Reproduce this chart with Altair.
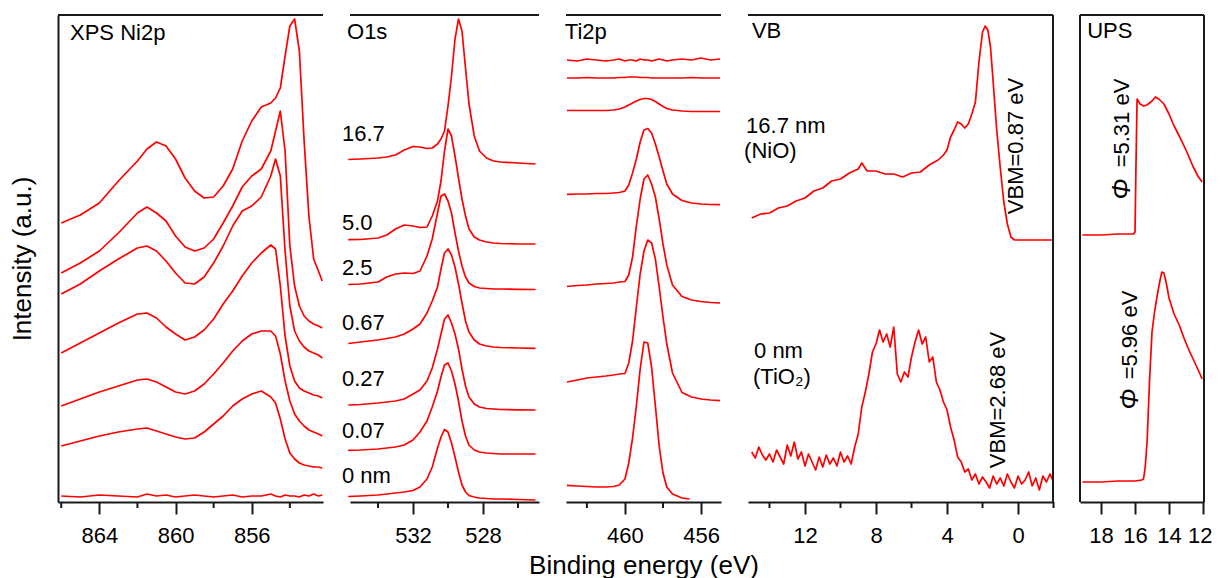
import altair as alt
import pandas as pd

FONT = "Liberation Sans"
RED = "#ff0000"
INK = "#1a1a1a"
H = 487

# ---------------- XPS Ni2p ----------------
ni_energy = [866.0, 865.0, 864.0, 863.0, 862.0, 861.5, 861.0, 860.5, 860.0, 859.5,
             859.0, 858.5, 858.0, 857.5, 857.0, 856.5, 856.0, 855.5, 855.0, 854.75,
             854.5, 854.25, 854.0, 853.75, 853.5, 853.25, 853.0, 852.75, 852.5, 852.3]
ni_16p7 = [279, 287, 299, 321, 341, 353, 360, 356, 343, 324, 311, 304, 305, 316, 333,
           361, 381, 395, 399, 404, 414, 446, 476, 483, 451, 361, 286, 243, 231, 221]
ni_5p0 = [229, 239, 251, 269, 289, 295, 289, 281, 266, 255, 251, 254, 263, 279, 296,
          315, 326, 333, 351, 371, 391, 351, 256, 216, 196, 186, 181, 178, 176, 174]
ni_2p5 = [208, 218, 231, 243, 254, 256, 251, 241, 229, 219, 218, 225, 239, 256, 276,
          291, 296, 305, 326, 343, 326, 251, 196, 171, 161, 155, 151, 149, 147, 144]
ni_0p67 = [149, 159, 169, 179, 188, 189, 184, 175, 168, 162, 165, 172, 183, 198, 211,
           226, 239, 249, 257, 253, 216, 166, 136, 121, 114, 111, 109, 107, 106, 104]
ni_0p27 = [96, 103, 110, 116, 122, 123, 120, 115, 110, 108, 111, 118, 128, 139, 151,
           161, 168, 171, 171, 166, 148, 121, 101, 88, 81, 76, 72, 70, 68, 66]
ni_0p07 = [56, 61, 66, 70, 73, 74, 71, 68, 65, 63, 64, 70, 78, 86, 96,
           103, 108, 111, 105, 99, 83, 63, 49, 43, 39, 37, 36, 35, 35, 34]
ni_0 = [6, 5, 7, 6, 5, 8, 6, 7, 5, 6, 7, 6, 5, 6, 7,
        5, 6, 6, 8, 6, 5, 7, 6, 6, 5, 7, 6, 8, 6, 7]

# ---------------- O1s ----------------
o_energy = [535.7, 535.0, 534.0, 533.5, 533.0, 532.5, 532.0, 531.6, 531.2, 530.9,
            530.6, 530.4, 530.2, 530.0, 529.8, 529.6, 529.4, 529.2, 529.0, 528.8,
            528.5, 528.2, 527.8, 527.4, 527.0, 526.0, 525.0]
o_16p7 = [342.5, 343, 344, 345, 347, 352, 355.5, 355, 353.5, 354, 358, 363, 371, 396,
          426, 463, 483, 471, 434, 398, 366, 351, 344, 341, 340, 339, 338]
o_5p0 = [262.3, 262.5, 264, 267, 273, 277, 276, 274.5, 275, 286, 301, 321, 351, 373,
         366, 346, 324, 303, 286, 273, 265, 262, 260, 259, 258.5, 258, 258]
o_2p5 = [217.5, 218, 220, 225, 228, 229, 228.5, 231, 246, 263, 289, 306, 308, 301,
         289, 269, 251, 236, 225, 219, 215.5, 214, 213.5, 213, 213, 212.6, 212.5]
o_0p67 = [158.5, 160, 162, 163.5, 165, 168, 173, 178, 189, 201, 215, 233, 249, 253,
          247, 235, 218, 199, 181, 170, 162, 158, 156, 155, 154.5, 154, 153.7]
o_0p27 = [97, 97.5, 99, 100, 101, 103, 108, 112, 121, 134, 153, 168, 183, 187,
          179, 168, 153, 133, 116, 105, 98, 95, 93.5, 93, 92.5, 92.2, 92]
o_0p07 = [51.7, 52, 53, 54, 55, 57, 62, 70, 81, 95, 111, 125, 137, 139,
          131, 118, 101, 81, 66, 57, 52, 50, 49, 48.5, 48, 48, 48]
o_0 = [5.5, 6, 7, 8, 9, 10, 11.5, 15, 23, 35, 54, 65, 72.5, 70,
       59, 45, 30, 17, 10, 6.5, 5, 4, 3.5, 3, 3, 2.5, 2]
o_labels = ["16.7", "5.0", "2.5", "0.67", "0.27", "0.07", "0 nm"]
o_label_level = [368, 279, 234, 179, 123, 71, 26]

# ---------------- Ti2p ----------------
ti_energy = [463.05, 462.5, 462.0, 461.5, 461.0, 460.6, 460.3, 460.0, 459.8, 459.6,
             459.4, 459.2, 459.0, 458.8, 458.6, 458.4, 458.2, 458.0, 457.8, 457.5,
             457.0, 456.5, 456.0, 455.5, 455.0]
ti_16p7 = [442, 441, 443, 442, 441, 442, 443, 441, 442, 442, 441, 443, 442, 442, 441,
           442, 443, 442, 441, 442, 443, 442, 444, 442, 443]
ti_5p0 = [424, 424, 424.5, 424, 424, 424, 424.5, 424.5, 425, 425, 425, 424.5, 424.5,
          424.5, 424, 424, 424, 424, 424, 424, 424, 424.5, 424, 424, 424]
ti_2p5 = [391.5, 391.5, 391.5, 391.5, 391.5, 392, 393, 395, 397, 399, 401, 402.5, 403.5,
          403.5, 402.5, 400.5, 398, 395.5, 393.5, 392, 391, 390.5, 390.5, 390.5, 390.5]
ti_0p67 = [307.6, 308, 308, 308.5, 308.5, 309, 309.5, 311, 317, 329, 343, 360, 372,
           373.5, 369, 358, 345, 331, 318, 308, 301.5, 299, 298, 297.5, 297.3]
ti_0p27 = [215.5, 216.5, 217, 218, 218.5, 219, 220, 220.5, 227, 245, 276, 303, 323,
           327, 318, 305, 283, 258, 237, 217, 205.5, 202, 200.5, 199.5, 199]
ti_0p07 = [120, 122, 124, 125, 126, 127, 128, 128.5, 139, 161, 195, 228, 251,
           262, 259, 243, 215, 185, 158, 129, 109.5, 105, 103, 102, 101.4]
ti0_energy = [463.05, 462.5, 462.0, 461.5, 461.0, 460.6, 460.3, 460.0, 459.8, 459.6,
              459.4, 459.2, 459.0, 458.8, 458.6, 458.4, 458.2, 458.0, 457.8, 457.5,
              457.0, 456.6]
ti_0 = [16.6, 16, 15.5, 15, 15, 15.5, 17, 23, 39, 64, 96, 133, 160, 159, 135, 96,
        56, 29, 15, 8, 4, 3]

# ---------------- VB ----------------
vb_nio_energy = [15.0, 14.5, 14.0, 13.5, 13.0, 12.5, 12.0, 11.5, 11.0, 10.5, 10.0, 9.5,
                 9.0, 8.8, 8.5, 8.0, 7.5, 7.0, 6.5, 6.0, 5.5, 5.0, 4.5, 4.2, 4.0, 3.8,
                 3.6, 3.4, 3.2, 3.0, 2.8, 2.6, 2.4, 2.2, 2.0, 1.85, 1.7, 1.55, 1.4, 1.2,
                 1.0, 0.8, 0.6, 0.4, 0.2, 0.0, -1.0, -1.95]
vb_nio = [284, 288, 289, 294, 296, 301, 304, 311, 314, 321, 323, 329, 333, 339, 331,
          331, 328, 328, 325, 329, 330, 337, 342, 347, 352, 365, 372, 380, 378, 374,
          378, 388, 400, 440, 470, 476, 472, 455, 420, 372, 334, 300, 278, 265, 262,
          262, 262, 262]
vb_tio2_energy = [15.0, 14.8, 14.6, 14.4, 14.2, 14.0, 13.8, 13.6, 13.4, 13.2, 13.0, 12.8,
                  12.6, 12.4, 12.2, 12.0, 11.8, 11.6, 11.4, 11.2, 11.0, 10.8, 10.6, 10.4,
                  10.2, 10.0, 9.8, 9.6, 9.4, 9.2, 9.0, 8.8, 8.6, 8.4, 8.2, 8.0, 7.8, 7.6,
                  7.4, 7.2, 7.0, 6.8, 6.6, 6.4, 6.2, 6.0, 5.8, 5.6, 5.4, 5.2, 5.0, 4.8,
                  4.6, 4.4, 4.2, 4.0, 3.8, 3.6, 3.4, 3.2, 3.0, 2.8, 2.6, 2.4, 2.2, 2.0,
                  1.8, 1.6, 1.4, 1.2, 1.0, 0.8, 0.6, 0.4, 0.2, 0.0, -0.2, -0.4, -0.6,
                  -0.8, -1.0, -1.2, -1.4, -1.6, -1.8, -1.95]
vb_tio2 = [50, 44, 55, 47, 42, 48, 40, 52, 45, 38, 57, 46, 60, 43, 50, 36, 48, 40, 32,
           45, 35, 47, 38, 44, 36, 50, 40, 46, 38, 55, 68, 95, 110, 128, 150, 158, 172,
           160, 168, 155, 175, 128, 120, 130, 125, 145, 160, 172, 158, 165, 140, 145,
           120, 112, 100, 92, 75, 62, 45, 40, 30, 33, 22, 28, 18, 25, 20, 14, 26, 18,
           24, 16, 28, 20, 14, 26, 18, 22, 30, 16, 24, 12, 26, 20, 28, 22]

# ---------------- UPS ----------------
ups_a_energy = [19.1, 18.0, 17.0, 16.1, 16.0, 15.95, 15.88, 15.7, 15.5, 15.3, 15.0, 14.8,
                14.6, 14.3, 14.0, 13.7, 13.4, 13.0, 12.6, 12.3, 12.05]
ups_a = [267, 267, 268, 268, 270, 330, 403, 398, 396, 397, 401, 405, 403, 398, 388,
         376, 366, 352, 336, 326, 320]
ups_b_energy = [19.1, 18.0, 17.0, 16.0, 15.6, 15.5, 15.4, 15.29, 15.15, 15.0, 14.85,
                14.7, 14.55, 14.42, 14.3, 14.15, 14.0, 13.7, 13.4, 13.1, 12.8, 12.5,
                12.2, 12.05]
ups_b = [20, 20, 21, 21, 22, 23, 35, 60, 120, 170, 190, 206, 220, 230, 229, 218, 204,
         188, 177, 163, 151, 140, 129, 123]


def series_frame(items):
    rows = []
    for name, energies, values in items:
        for e, v in zip(energies, values):
            rows.append({"E": e, "I": v, "s": name})
    return pd.DataFrame(rows)


def text_frame(items):
    return pd.DataFrame([{"E": e, "I": i, "t": t} for t, e, i in items])


def make_panel(curves, width, xdom, major, minor, texts=(), rotated=(), phis=(),
               y_title=None, x_title=None, left_rule=False, right_rule=False):
    xs = alt.Scale(domain=xdom, nice=False, zero=False)
    ys = alt.Scale(domain=[0, H], nice=False, zero=False)
    xaxis = alt.Axis(values=major, format="d", tickSize=12, tickWidth=2, tickColor=INK,
                     domainWidth=2, domainColor=INK, labelFont=FONT, labelFontSize=22,
                     labelColor="black", labelFlush=3, labelFlushOffset=9,
                     labelOverlap=False, labelPadding=11, grid=False, title=x_title,
                     titleFont=FONT, titleFontSize=26, titleFontWeight="normal",
                     titleColor="black", titlePadding=6)
    if y_title:
        yaxis = alt.Axis(title=y_title, labels=False, ticks=False, domain=True,
                         domainWidth=2, domainColor=INK, grid=False, titleFont=FONT,
                         titleFontSize=26, titleFontWeight="normal", titleColor="black",
                         titlePadding=23)
    else:
        yaxis = None
    X = alt.X("E:Q", scale=xs, axis=xaxis)
    Y = alt.Y("I:Q", scale=ys, axis=yaxis)

    layers = [
        alt.Chart(series_frame(curves)).mark_line(color=RED, strokeWidth=1.7,
                                                  strokeJoin="round").encode(
            x=X, y=Y, detail="s:N")
    ]
    if minor:
        layers.append(
            alt.Chart(pd.DataFrame({"E": minor})).mark_rule(color=INK, strokeWidth=2)
            .encode(x=X, y=alt.value(H), y2=alt.value(H + 6)))
    one = alt.Data(values=[{"a": 0}])
    layers.append(alt.Chart(one).mark_rule(color=INK, strokeWidth=2).encode(
        x=alt.value(0), x2=alt.value(width), y=alt.value(0)))
    if left_rule:
        layers.append(alt.Chart(one).mark_rule(color=INK, strokeWidth=2).encode(
            x=alt.value(0), y=alt.value(0), y2=alt.value(H)))
    if right_rule:
        layers.append(alt.Chart(one).mark_rule(color=INK, strokeWidth=2).encode(
            x=alt.value(width), y=alt.value(0), y2=alt.value(H)))
    if texts:
        layers.append(alt.Chart(text_frame(texts)).mark_text(
            align="left", baseline="middle", font=FONT, fontSize=22, color="black")
            .encode(x=X, y=Y, text="t:N"))
    if rotated:
        layers.append(alt.Chart(text_frame(rotated)).mark_text(
            angle=270, align="center", baseline="middle", font=FONT, fontSize=22,
            color="black").encode(x=X, y=Y, text="t:N"))
    if phis:
        layers.append(alt.Chart(text_frame(phis)).mark_text(
            angle=270, align="center", baseline="middle", font=FONT, fontSize=25,
            fontStyle="italic", color="black").encode(x=X, y=Y, text="t:N"))
    return alt.layer(*layers).properties(width=width, height=H)


p_ni = make_panel(
    [("16.7", ni_energy, ni_16p7), ("5.0", ni_energy, ni_5p0), ("2.5", ni_energy, ni_2p5),
     ("0.67", ni_energy, ni_0p67), ("0.27", ni_energy, ni_0p27),
     ("0.07", ni_energy, ni_0p07), ("0", ni_energy, ni_0)],
    265, [866.17, 852.26], [864, 860, 856], [866, 862, 858, 854],
    texts=[("XPS Ni2p", 865.54, 469)], y_title="Intensity (a.u.)")

p_o = make_panel(
    [("16.7", o_energy, o_16p7), ("5.0", o_energy, o_5p0), ("2.5", o_energy, o_2p5),
     ("0.67", o_energy, o_0p67), ("0.27", o_energy, o_0p27),
     ("0.07", o_energy, o_0p07), ("0", o_energy, o_0)],
    189, [535.6, 524.8], [532, 528], [534, 530, 526],
    texts=[("O1s", 535.77, 470)] + [(t, 536.06, lv) for t, lv in zip(o_labels, o_label_level)])

p_ti = make_panel(
    [("16.7", ti_energy, ti_16p7), ("5.0", ti_energy, ti_5p0), ("2.5", ti_energy, ti_2p5),
     ("0.67", ti_energy, ti_0p67), ("0.27", ti_energy, ti_0p27),
     ("0.07", ti_energy, ti_0p07), ("0", ti0_energy, ti_0)],
    155, [463.1, 454.95], [460, 456], [462, 458],
    texts=[("Ti2p", 463.16, 470)], x_title="Binding energy (eV)")

p_vb = make_panel(
    [("NiO", vb_nio_energy, vb_nio), ("TiO2", vb_tio2_energy, vb_tio2)],
    305, [15.21, -1.97], [12, 8, 4, 0], [14, 10, 6, 2, -2],
    texts=[("VB", 14.99, 471), ("16.7 nm", 15.32, 376), ("(NiO)", 15.43, 351),
           ("0 nm", 14.87, 151), ("(TiO\u2082)", 14.93, 125)],
    rotated=[("VBM=0.87 eV", 0.1, 356), ("VBM=2.68 eV", 1.1, 102)],
    right_rule=True)

p_ups = make_panel(
    [("a", ups_a_energy, ups_a), ("b", ups_b_energy, ups_b)],
    124, [19.24, 11.94], [18, 16, 14, 12], [],
    texts=[("UPS", 18.82, 471)],
    rotated=[("=5.31 eV", 16.76, 379), ("=5.96 eV", 16.29, 167)],
    phis=[("\u03a6", 16.76, 313), ("\u03a6", 16.29, 103)],
    left_rule=True, right_rule=True)

chart = alt.hconcat(p_ni, p_o, p_ti, p_vb, p_ups, spacing=27, bounds="flush").properties(
    padding={"left": 1, "top": 6, "right": 0, "bottom": 0},
    background="white",
).configure_view(stroke=None)

chart.save("out.html", embed_options={"renderer": "svg", "actions": False})
